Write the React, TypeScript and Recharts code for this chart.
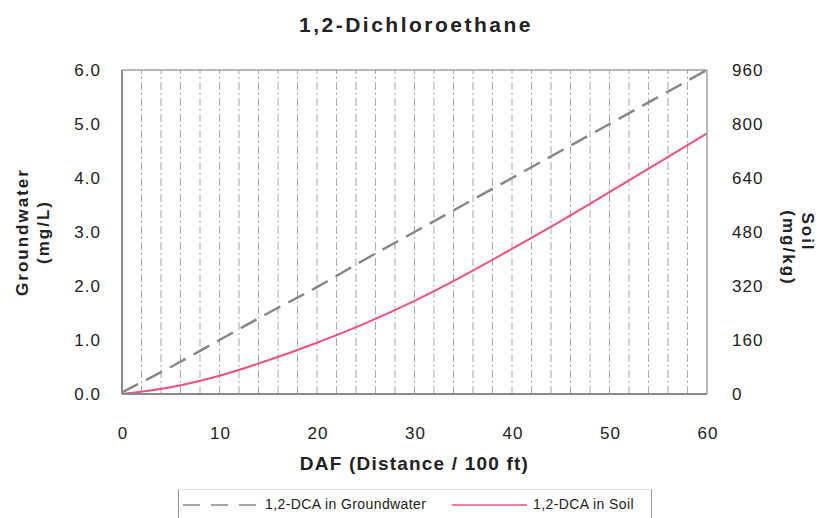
import React from "react";
import {
  ComposedChart,
  Line,
  XAxis,
  YAxis,
  ReferenceLine,
  Label,
} from "recharts";

const distance = [0, 5, 10, 15, 20, 25, 30, 35, 40, 45, 50, 55, 60];
const groundwater = [0.03, 0.5, 1.0, 1.5, 1.98, 2.5, 3.0, 3.5, 4.0, 4.5, 5.0, 5.5, 6.0];
const soil = [0, 20, 54, 100, 152, 210, 276, 350, 430, 512, 598, 685, 772];

const xTicks = [0, 10, 20, 30, 40, 50, 60];
const gwTicks = [0, 1, 2, 3, 4, 5, 6];
const soilTicks = [0, 160, 320, 480, 640, 800, 960];
const gridX = [2, 4, 6, 8, 10, 12, 14, 16, 18, 20, 22, 24, 26, 28, 30, 32, 34, 36, 38, 40, 42, 44, 46, 48, 50, 52, 54, 56, 58];

const FONT = "'Liberation Sans', Arial, sans-serif";
const GW_COLOR = "#8a8688";
const SOIL_COLOR = "#f0507e";

const data = distance.map((d, i) => ({ d, gw: groundwater[i], soil: soil[i] }));

const tickText = { fontFamily: FONT, fontSize: 17, letterSpacing: 1, fill: "#222" };

function XTick(props: any) {
  const { x, y, payload } = props;
  return (
    <text x={x + 1} y={y + 37} textAnchor="middle" style={tickText}>
      {payload.value}
    </text>
  );
}

function GwTick(props: any) {
  const { x, y, payload } = props;
  return (
    <text x={x - 13} y={y + 6} textAnchor="end" style={tickText}>
      {Number(payload.value).toFixed(1)}
    </text>
  );
}

function SoilTick(props: any) {
  const { x, y, payload } = props;
  return (
    <text x={x + 17} y={y + 6} textAnchor="start" style={tickText}>
      {payload.value}
    </text>
  );
}

const axisTitle = { fontFamily: FONT, fontWeight: "bold" as const, fontSize: 17, letterSpacing: 2, fill: "#222" };

function LeftLabel(props: any) {
  const vb = props.viewBox;
  const cy = vb.y + vb.height / 2;
  return (
    <g style={axisTitle}>
      <text x={28} y={cy} textAnchor="middle" transform={`rotate(-90 28 ${cy})`}>
        Groundwater
      </text>
      <text x={49} y={cy} textAnchor="middle" transform={`rotate(-90 49 ${cy})`}>
        (mg/L)
      </text>
    </g>
  );
}

function RightLabel(props: any) {
  const vb = props.viewBox;
  const cy = vb.y + vb.height / 2 + 16;
  return (
    <g style={axisTitle}>
      <text x={802} y={cy - 16} textAnchor="middle" transform={`rotate(90 802 ${cy - 16})`}>
        Soil
      </text>
      <text x={783} y={cy} textAnchor="middle" transform={`rotate(90 783 ${cy})`}>
        (mg/kg)
      </text>
    </g>
  );
}

export default function App() {
  return (
    <div style={{ position: "fixed", left: 0, top: 0, width: 816, height: 518, background: "#fff", fontFamily: FONT }}>
      <div
        style={{
          position: "absolute",
          top: 13,
          left: 8,
          width: 816,
          textAlign: "center",
          fontSize: 21,
          letterSpacing: 2.5,
          fontWeight: "bold",
          color: "#222",
        }}
      >
        1,2-Dichloroethane
      </div>
      <ComposedChart
        width={816}
        height={518}
        data={data}
        margin={{ top: 70, right: 0, bottom: 0, left: 0 }}
      >
        <XAxis
          dataKey="d"
          type="number"
          domain={[0, 60]}
          ticks={xTicks}
          height={124}
          tickLine={false}
          axisLine={{ stroke: "#8a8a8a", strokeWidth: 2 }}
          tick={<XTick />}
        >
          <Label
            value="DAF (Distance / 100 ft)"
            position="insideTop"
            offset={63}
            style={{ fontSize: 19, letterSpacing: 1.2, fontWeight: "bold", fill: "#222", fontFamily: FONT }}
          />
        </XAxis>
        <YAxis
          yAxisId="gw"
          type="number"
          domain={[0, 6]}
          ticks={gwTicks}
          width={122}
          tickLine={false}
          axisLine={{ stroke: "#8a8a8a", strokeWidth: 2 }}
          tick={<GwTick />}
        >
          <Label content={<LeftLabel />} />
        </YAxis>
        <YAxis
          yAxisId="soil"
          orientation="right"
          type="number"
          domain={[0, 960]}
          ticks={soilTicks}
          width={109}
          tickLine={false}
          axisLine={{ stroke: "#a0a0a0", strokeWidth: 1.5 }}
          tick={<SoilTick />}
        >
          <Label content={<RightLabel />} />
        </YAxis>
        {gridX.map((x) => (
          <ReferenceLine
            key={x}
            x={x}
            yAxisId="gw"
            stroke="#aea6a8"
            strokeWidth={1}
            strokeDasharray="8 3 2 3"
          />
        ))}
        <ReferenceLine y={6} yAxisId="gw" stroke="#a0a0a0" strokeWidth={1.5} />
        <Line
          yAxisId="gw"
          dataKey="gw"
          type="monotone"
          stroke={GW_COLOR}
          strokeWidth={2.5}
          strokeDasharray="18 9"
          dot={false}
          isAnimationActive={false}
        />
        <Line
          yAxisId="soil"
          dataKey="soil"
          type="monotone"
          stroke={SOIL_COLOR}
          strokeWidth={2}
          dot={false}
          isAnimationActive={false}
        />
      </ComposedChart>
      <div
        style={{
          position: "absolute",
          left: 178,
          top: 489,
          width: 474,
          height: 30,
          borderLeft: "1px solid #999",
          borderRight: "1px solid #999",
          borderTop: "1px solid #e2e2e2",
          fontSize: 14,
          letterSpacing: 0.4,
          color: "#222",
          boxSizing: "border-box",
        }}
      >
        <svg width={76} height={10} style={{ position: "absolute", left: 4, top: 10 }}>
          <line x1={0} y1={5} x2={75} y2={5} stroke={GW_COLOR} strokeWidth={1.5} strokeDasharray="17 11" />
        </svg>
        <span style={{ position: "absolute", left: 86, top: 6 }}>1,2-DCA in Groundwater</span>
        <svg width={76} height={10} style={{ position: "absolute", left: 273, top: 10 }}>
          <line x1={0} y1={5} x2={75} y2={5} stroke={SOIL_COLOR} strokeWidth={1.5} />
        </svg>
        <span style={{ position: "absolute", left: 354, top: 6 }}>1,2-DCA in Soil</span>
      </div>
    </div>
  );
}
